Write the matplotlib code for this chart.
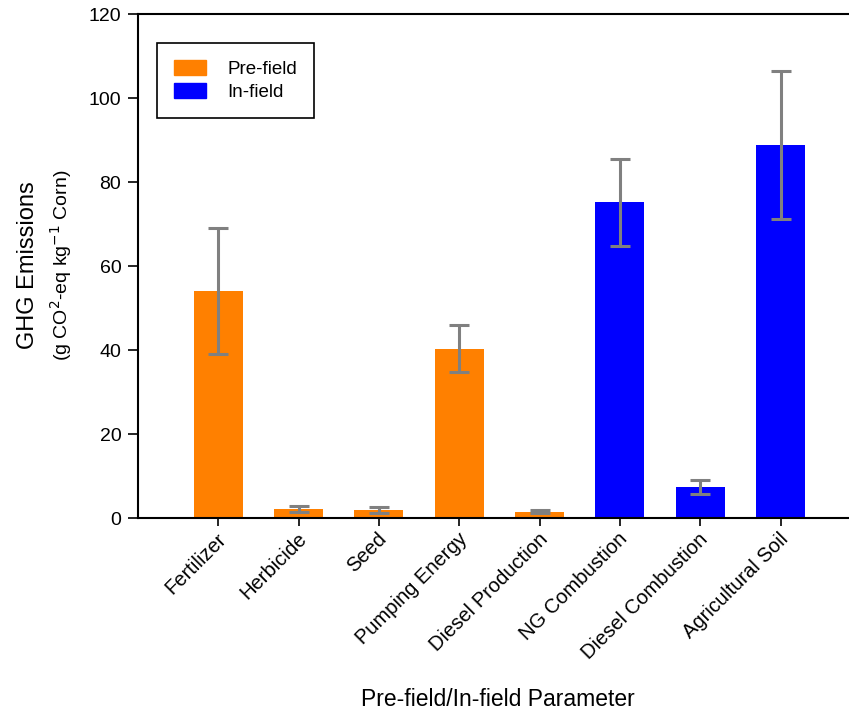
import matplotlib
matplotlib.use('Agg')
import matplotlib.pyplot as plt
import matplotlib.transforms as mtransforms
from matplotlib.patches import Patch
import numpy as np

plt.rcParams['font.family'] = ['Liberation Sans', 'DejaVu Sans']

categories = ['Fertilizer', 'Herbicide', 'Seed', 'Pumping Energy', 'Diesel Production',
              'NG Combustion', 'Diesel Combustion', 'Agricultural Soil']
values = [54.0, 2.2, 1.9, 40.2, 1.5, 75.2, 7.4, 88.8]
err_upper = [69.1, 2.9, 2.6, 45.9, 2.0, 85.4, 9.1, 106.5]
err_lower = [39.0, 1.4, 1.3, 34.7, 1.1, 64.8, 5.6, 71.1]
group = ['Pre-field', 'Pre-field', 'Pre-field', 'Pre-field', 'Pre-field',
         'In-field', 'In-field', 'In-field']
colors = {'Pre-field': '#FF8000', 'In-field': '#0000FF'}

fig = plt.figure(figsize=(8.49, 7.15), dpi=100)
ax = fig.add_axes([0.1625, 0.2755, 0.8515, 0.7049])

x = np.arange(1, len(categories) + 1)
vals = np.array(values)
yerr = [vals - np.array(err_lower), np.array(err_upper) - vals]
bar_colors = [colors[g] for g in group]
ax.bar(x, vals, width=0.61, color=bar_colors, zorder=2)
ax.errorbar(x, vals, yerr=yerr, fmt='none', ecolor='#808080', elinewidth=2.2,
            capsize=7, capthick=2.2, zorder=3)

ax.set_xlim(0, 9)
ax.set_ylim(0, 120)
ax.set_yticks(np.arange(0, 121, 20))
ax.set_xticks(x)
ax.set_xticklabels(categories, rotation=45, ha='right', va='center', rotation_mode='anchor')
ax.tick_params(axis='both', direction='out', width=1.2)
ax.tick_params(axis='y', length=7, pad=5, labelsize=14)
ax.tick_params(axis='x', length=6, pad=7, labelsize=14.5)
# nudge the rotated labels a little to the right
shift = mtransforms.ScaledTranslation(3.5 / 72, 0, fig.dpi_scale_trans)
for lbl in ax.get_xticklabels():
    lbl.set_transform(lbl.get_transform() + shift)
for s in ax.spines.values():
    s.set_linewidth(1.5)

fig.text(0.033, 0.629, 'GHG Emissions', rotation=90, ha='center', va='center', fontsize=17)
fig.text(0.072, 0.629, '(g CO$^2$-eq kg$^{-1}$ Corn)', rotation=90, ha='center', va='center',
         fontsize=14)
fig.text(0.587, 0.021, 'Pre-field/In-field Parameter', ha='center', va='center', fontsize=16.5)

handles = [Patch(color=colors['Pre-field'], label='Pre-field'),
           Patch(color=colors['In-field'], label='In-field')]
leg = ax.legend(handles=handles, loc='upper left', bbox_to_anchor=(0.026, 0.943),
                fontsize=13.5, fancybox=False, edgecolor='black', framealpha=1,
                handlelength=1.75, handleheight=0.85, handletextpad=1.1, borderpad=0.9,
                labelspacing=0.3, borderaxespad=0)
leg.get_frame().set_linewidth(1.2)

fig.savefig('out.png', dpi=100)
